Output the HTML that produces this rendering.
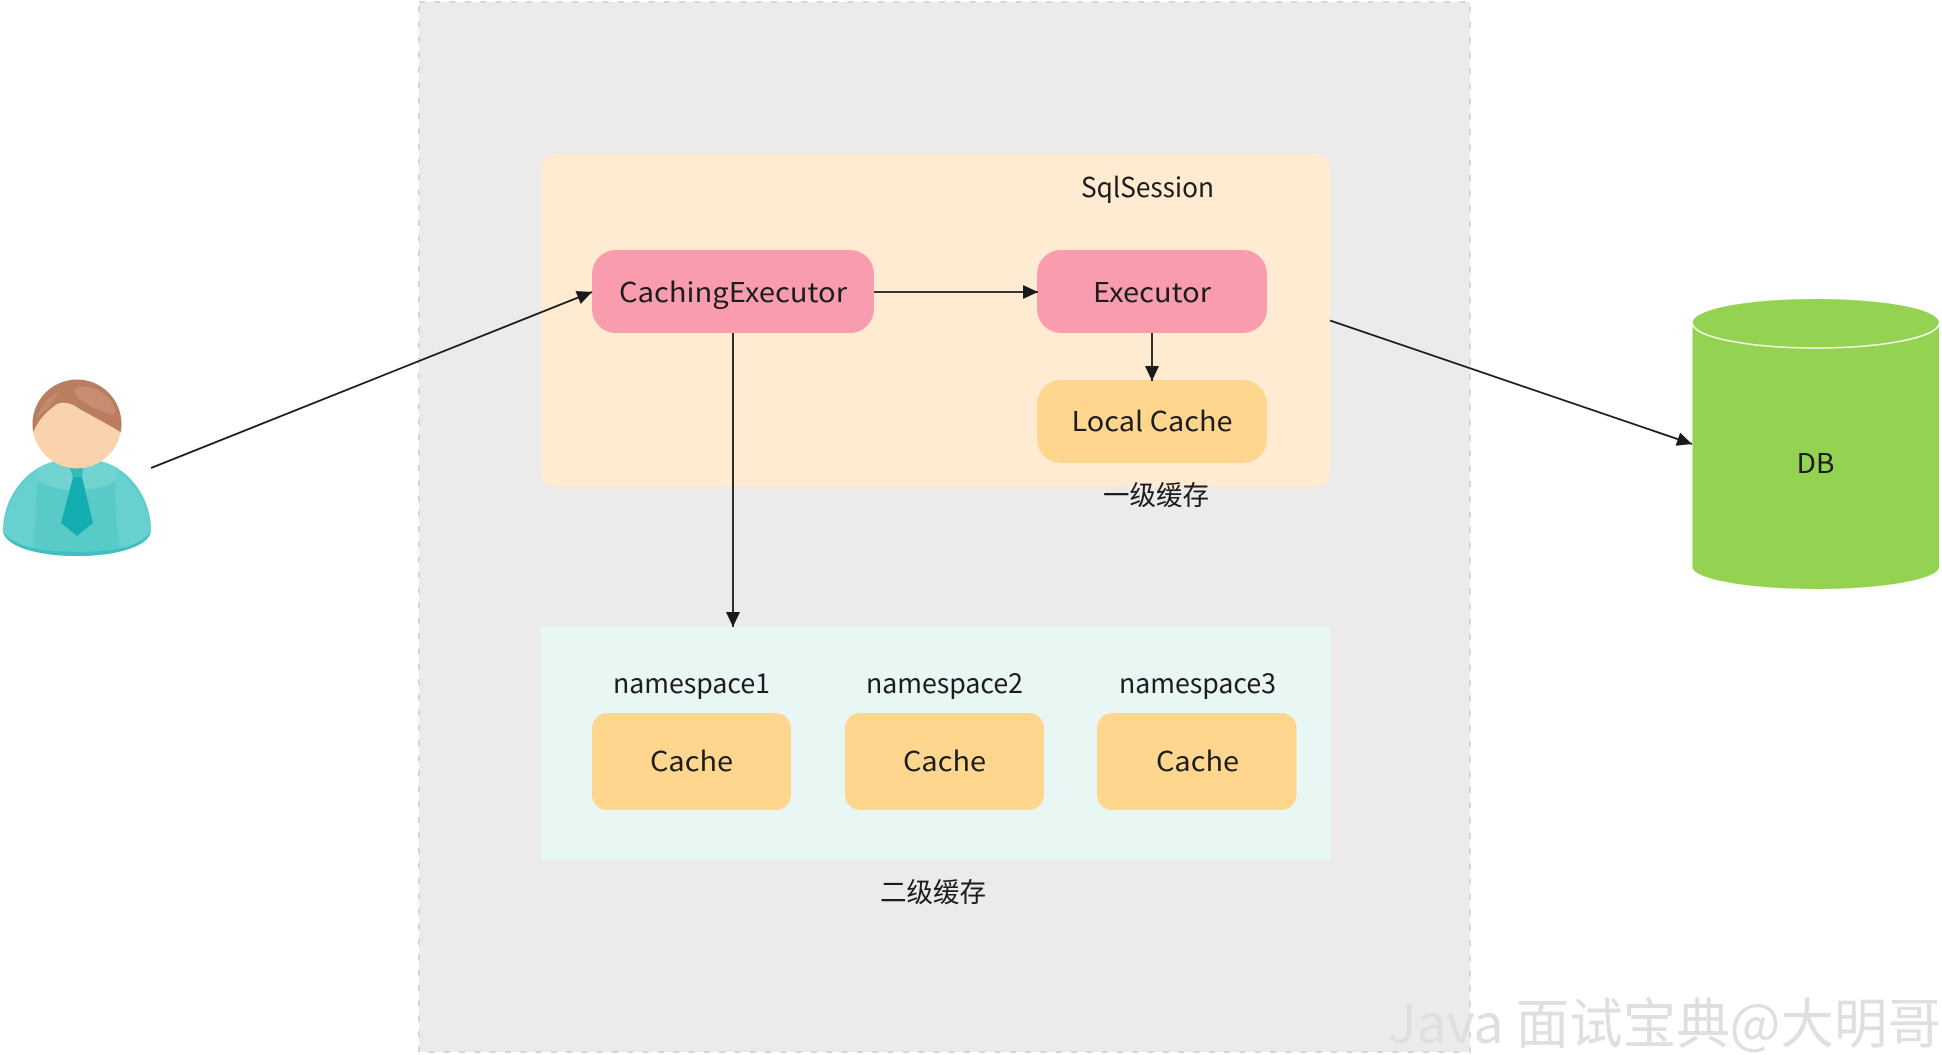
<!DOCTYPE html>
<html>
<head>
<meta charset="utf-8">
<style>
html,body{margin:0;padding:0;background:#fff;width:1942px;height:1055px;overflow:hidden}
svg{display:block}
text{font-family:"Liberation Sans","Noto Sans CJK SC",sans-serif;fill:#1c1c1c}
.l{font-family:"Noto Sans CJK SC","Liberation Sans",sans-serif;font-size:27px}
</style>
</head>
<body>
<svg width="1942" height="1055" viewBox="0 0 1942 1055" xmlns="http://www.w3.org/2000/svg">
<defs>
<marker id="a" markerUnits="userSpaceOnUse" markerWidth="16" markerHeight="14" refX="15" refY="7" orient="auto">
<path d="M0 0L15 7L0 14z" fill="#1a1a1a"/>
</marker>
<clipPath id="head"><circle cx="77" cy="424" r="44.5"/></clipPath>
<clipPath id="body"><path d="M3 530C3 495 30 462 64 460L92 460C125 462 151 495 151 530C151 545 120 556 77 556C34 556 3 545 3 530Z"/></clipPath>
</defs>

<!-- outer -->
<rect x="419" y="2" width="1051" height="1050" fill="#ebebeb" stroke="#d6d6d6" stroke-width="2" stroke-dasharray="6 9.3"/>

<!-- SqlSession -->
<rect x="541" y="153.500" width="789.500" height="333.500" rx="15" fill="#ffebd1"/>
<text class="l" x="1081" y="197" textLength="133" lengthAdjust="spacingAndGlyphs">SqlSession</text>

<rect x="592" y="250" width="282" height="83" rx="24" fill="#f99cae"/>
<text class="l" x="619" y="302" textLength="228" lengthAdjust="spacingAndGlyphs">CachingExecutor</text>

<rect x="1037" y="250" width="230" height="83" rx="24" fill="#f99cae"/>
<text class="l" x="1093" y="302" textLength="118" lengthAdjust="spacingAndGlyphs">Executor</text>

<rect x="1037" y="380" width="230" height="83" rx="24" fill="#fed68e"/>
<text class="l" x="1071.500" y="431" textLength="161" lengthAdjust="spacingAndGlyphs">Local Cache</text>

<text class="l" x="1103" y="505" textLength="106" lengthAdjust="spacingAndGlyphs">一级缓存</text>

<!-- second level -->
<rect x="541" y="626" width="789.500" height="234" fill="#e8f7f3"/>
<text class="l" x="613" y="693" textLength="157" lengthAdjust="spacingAndGlyphs">namespace1</text>
<text class="l" x="866" y="693" textLength="157" lengthAdjust="spacingAndGlyphs">namespace2</text>
<text class="l" x="1119" y="693" textLength="157" lengthAdjust="spacingAndGlyphs">namespace3</text>

<rect x="592" y="713" width="199" height="97" rx="15" fill="#fed68e"/>
<rect x="845" y="713" width="199" height="97" rx="15" fill="#fed68e"/>
<rect x="1097" y="713" width="199.500" height="97" rx="15" fill="#fed68e"/>
<text class="l" x="650" y="771" textLength="83" lengthAdjust="spacingAndGlyphs">Cache</text>
<text class="l" x="903" y="771" textLength="83" lengthAdjust="spacingAndGlyphs">Cache</text>
<text class="l" x="1156" y="771" textLength="83" lengthAdjust="spacingAndGlyphs">Cache</text>

<text class="l" x="880" y="902" textLength="106" lengthAdjust="spacingAndGlyphs">二级缓存</text>

<!-- watermark -->
<text x="1388" y="1043" font-size="54" style="fill:#dfdfdf;font-family:'Noto Sans CJK SC','Liberation Sans',sans-serif" textLength="553" lengthAdjust="spacingAndGlyphs">Java 面试宝典@大明哥</text>

<!-- DB -->
<path d="M1692.500 323C1692.500 309 1748 299 1816 299C1884 299 1939 309 1939 323L1939 567C1939 579 1884 589 1816 589C1748 589 1692.500 579 1692.500 567Z" fill="#93d351"/>
<path d="M1692.500 323C1692.500 337 1748 348 1816 348C1884 348 1939 337 1939 323" fill="none" stroke="#f4fbe9" stroke-width="1.600"/>
<text class="l" x="1796.500" y="473" textLength="38" lengthAdjust="spacingAndGlyphs">DB</text>

<!-- connectors -->
<line x1="151" y1="468" x2="592" y2="292" stroke="#1a1a1a" stroke-width="1.800" marker-end="url(#a)"/>
<line x1="874" y1="292" x2="1038" y2="292" stroke="#1a1a1a" stroke-width="1.800" marker-end="url(#a)"/>
<line x1="1152" y1="333" x2="1152" y2="381" stroke="#1a1a1a" stroke-width="1.800" marker-end="url(#a)"/>
<line x1="733" y1="333" x2="733" y2="627" stroke="#1a1a1a" stroke-width="1.800" marker-end="url(#a)"/>
<line x1="1330" y1="320.500" x2="1692" y2="444" stroke="#1a1a1a" stroke-width="1.800" marker-end="url(#a)"/>

<!-- person -->
<path d="M3 530C3 495 30 462 64 460L92 460C125 462 151 495 151 530C151 545 120 556 77 556C34 556 3 545 3 530Z" fill="#5ecdcb"/>
<g clip-path="url(#body)">
<rect x="36" y="462" width="82" height="90" fill="#58cac8"/>
<ellipse cx="77" cy="474" rx="42" ry="16" fill="#72d4d1"/>
<path d="M3 530C8 500 22 480 40 470C34 500 36 525 32 550C15 545 5 540 3 530Z" fill="#66d1cf"/>
<path d="M151 530C146 500 132 480 116 472C114 505 116 530 122 550C140 545 149 540 151 530Z" fill="#66d1cf"/>
<path d="M0 526C8 545 34 552 77 552C120 552 146 545 154 526L154 560L0 560Z" fill="#3dc0bf"/>
</g>
<path d="M70 468L83 468L82 477L93 523L77 536L61 523L73 477Z" fill="#12aeb0"/>
<path d="M70 468L83 468L82 477L73 477Z" fill="#35b9b9"/>
<g clip-path="url(#head)">
<circle cx="77" cy="424" r="44.500" fill="#fad3ad"/>
<path d="M30 374H125V435C110 425 90 415 78 408C70 402 62 402 57 404C46 412 38 420 33 433L30 433Z" fill="#b97d60"/>
<path d="M75 389C85 382 103 390 112 402C116 410 116 414 112 414C100 412 84 404 78 398C75 394 74 391 75 389Z" fill="#c68d71"/>
<path d="M36 420C40 405 50 395 60 392C55 398 52 402 50 407C44 411 40 415 36 420Z" fill="#c28a6e"/>
</g>
</svg>
</body>
</html>
